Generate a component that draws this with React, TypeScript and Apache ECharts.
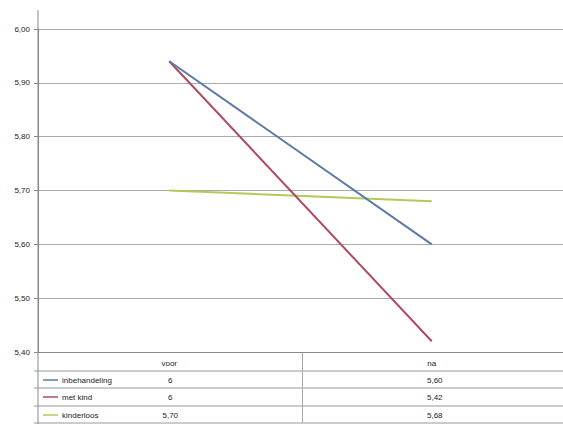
import React, { useEffect, useRef } from "react";
import * as echarts from "echarts";

const categories = ["voor", "na"];
const seriesNames = ["inbehandeling", "met kind", "kinderloos"];
const inbehandeling = [5.94, 5.6];
const metKind = [5.94, 5.42];
const kinderloos = [5.7, 5.68];
const tableVoor = ["6", "6", "5,70"];
const tableNa = ["5,60", "5,42", "5,68"];
const colors = ["#5B7BA5", "#B04A5E", "#B5C95A"];

const W = 563;
const H = 425;
const GL = 38;
const GR = -4;
const GT = 29;
const GB = 73;

export default function App() {
  const ref = useRef<HTMLDivElement>(null);
  useEffect(() => {
    const chart = echarts.init(ref.current!, null, { renderer: "svg" });
    const plotBottom = H - GB;
    const plotW = W - GL - GR;
    const band = plotW / categories.length;
    const rowLines = [plotBottom, 371, 388, 406, 423];
    const rowText = [380, 397, 415];
    const font = "Liberation Sans, Arial, sans-serif";
    const graphics: any[] = [];
    graphics.push({
      type: "line",
      shape: { x1: GL, y1: 10, x2: GL, y2: 424 },
      style: { stroke: "#888", lineWidth: 1 },
    });
    rowLines.slice(1).forEach((y) => {
      graphics.push({
        type: "line",
        shape: { x1: GL - 4, y1: y, x2: W, y2: y },
        style: { stroke: "#999", lineWidth: 1 },
      });
    });
    graphics.push({
      type: "line",
      shape: { x1: GL + band, y1: plotBottom, x2: GL + band, y2: 423 },
      style: { stroke: "#aaa", lineWidth: 1 },
    });
    const data = [inbehandeling, metKind, kinderloos];
    seriesNames.forEach((name, i) => {
      graphics.push({
        type: "line",
        shape: { x1: GL + 5, y1: rowText[i], x2: GL + 20, y2: rowText[i] },
        style: { stroke: colors[i], lineWidth: 1.5 },
      });
      graphics.push({
        type: "text",
        x: GL + 24,
        y: rowText[i],
        style: { text: name, fill: "#222", font: `8px ${font}`, verticalAlign: "middle" },
      });
      graphics.push({
        type: "text",
        x: GL + band * 0.5,
        y: rowText[i],
        style: { text: tableVoor[i], fill: "#222", font: `8px ${font}`, align: "center", verticalAlign: "middle" },
      });
      graphics.push({
        type: "text",
        x: GL + band * 1.5,
        y: rowText[i],
        style: { text: tableNa[i], fill: "#222", font: `8px ${font}`, align: "center", verticalAlign: "middle" },
      });
    });
    chart.setOption({
      animation: false,
      grid: { left: GL, right: GR, top: GT, bottom: GB },
      xAxis: {
        type: "category",
        data: categories,
        boundaryGap: true,
        axisLine: { show: true, lineStyle: { color: "#888" } },
        axisTick: { show: false },
        axisLabel: { color: "#222", fontSize: 8, fontFamily: font, margin: 7 },
      },
      yAxis: {
        type: "value",
        min: 5.4,
        max: 6.0,
        interval: 0.1,
        axisLine: { show: true, lineStyle: { color: "#888" } },
        axisTick: { show: true, length: 4, lineStyle: { color: "#888" } },
        axisLabel: {
          color: "#222",
          fontSize: 8,
          fontFamily: font,
          margin: 8,
          formatter: (v: number) => v.toFixed(2).replace(".", ","),
        },
        splitLine: { show: true, lineStyle: { color: "#aaa", width: 1 } },
      },
      series: data.map((d, i) => ({
        name: seriesNames[i],
        type: "line",
        data: d,
        symbol: "none",
        lineStyle: { color: colors[i], width: 2 },
        z: 3 - i,
      })),
      graphic: graphics,
    });
    return () => chart.dispose();
  }, []);
  return <div ref={ref} style={{ width: W, height: H, position: "absolute", left: 0, top: 0, background: "#fff" }} />;
}
